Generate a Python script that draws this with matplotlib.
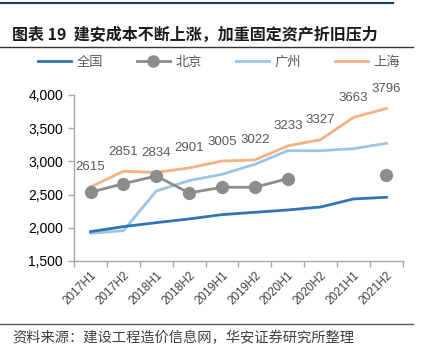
import numpy as np
import matplotlib
matplotlib.use("Agg")
import matplotlib.pyplot as plt
from matplotlib.lines import Line2D
from matplotlib.ticker import FuncFormatter, FixedLocator

plt.rcParams['font.family'] = ['Liberation Sans', 'Noto Sans CJK SC']

periods = ["2017H1", "2017H2", "2018H1", "2018H2", "2019H1",
           "2019H2", "2020H1", "2020H2", "2021H1", "2021H2"]
national = [1942, 2017, 2077, 2133, 2198, 2233, 2268, 2313, 2434, 2459]
beijing = [2535, 2664, 2780, 2524, 2610, 2610, 2740, np.nan, np.nan, 2790]
guangzhou = [1917, 1956, 2554, 2710, 2805, 2956, 3161, 3160, 3191, 3272]
shanghai = [2615, 2851, 2834, 2901, 3005, 3022, 3233, 3327, 3663, 3796]

c_nat = "#2E75B6"
c_bj = "#8C8C8C"
c_gz = "#9DC3E6"
c_sh = "#F4B183"
txt_gray = "#595959"
cjk = ['Noto Sans CJK SC', 'DejaVu Sans']

fig = plt.figure(figsize=(4.21, 3.57), dpi=100)
ax = fig.add_axes([0.176, 0.269, 0.781, 0.465])

x = np.arange(len(periods))
ax.plot(x, shanghai, color=c_sh, lw=2.0, zorder=2)
ax.plot(x, guangzhou, color=c_gz, lw=2.0, zorder=2)
ax.plot(x, beijing, color=c_bj, lw=2.0, marker='o', markersize=8.5, zorder=3)
ax.plot(x, national, color=c_nat, lw=2.0, zorder=4)

for xi, v in zip(x, shanghai):
    ax.annotate(str(v), (xi, v), xytext=(0, 14), textcoords='offset points',
                ha='center', va='center', fontsize=9.5, color=txt_gray)

ax.set_xlim(-0.5, len(periods) - 0.5)
ax.set_ylim(1500, 4000)
ax.set_yticks(np.arange(1500, 4001, 500))
ax.yaxis.set_major_formatter(FuncFormatter(lambda v, p: f"{int(v):,}"))
ax.tick_params(axis='y', labelsize=10, length=4, color='#A6A6A6', width=1, pad=4)

ax.set_xticks(x)
ax.set_xticklabels(periods, rotation=45, ha='right', rotation_mode='anchor',
                   fontsize=8.5, color='#404040')
ax.tick_params(axis='x', which='major', length=0, pad=6)
ax.xaxis.set_minor_locator(FixedLocator(np.arange(-0.5, len(periods), 1.0)))
ax.tick_params(axis='x', which='minor', length=4, color='#A6A6A6', width=1)

for s in ['top', 'right']:
    ax.spines[s].set_visible(False)
for s in ['left', 'bottom']:
    ax.spines[s].set_color('#A6A6A6')
    ax.spines[s].set_linewidth(1)

handles = [
    Line2D([], [], color=c_nat, lw=2.0),
    Line2D([], [], color=c_bj, lw=2.0, marker='o', markersize=8),
    Line2D([], [], color=c_gz, lw=2.0),
    Line2D([], [], color=c_sh, lw=2.0),
]
leg = fig.legend(handles, ["全国", "北京", "广州", "上海"], loc='center',
                 bbox_to_anchor=(0.52, 0.826), ncol=4, frameon=False,
                 handlelength=2.5, handletextpad=0.4, columnspacing=2.6,
                 prop={'family': cjk, 'size': 9.5})
for t in leg.get_texts():
    t.set_color(txt_gray)

# header / footer decorations
fig.add_artist(Line2D([0, 393 / 421], [1 - 3 / 357] * 2, color='#1F3864', lw=1.5))
fig.text(12 / 421, 1 - 35 / 357, "图表 19  建安成本不断上涨，加重固定资产折旧压力",
         family=cjk, fontsize=11.5, fontweight='bold', va='center', ha='left',
         color='#1a1a1a')
fig.add_artist(Line2D([0, 413 / 421], [1 - 47 / 357] * 2, color='#333333', lw=1.0))
fig.add_artist(Line2D([0, 413 / 421], [1 - 324 / 357] * 2, color='#595959', lw=1.0))
fig.text(12 / 421, 1 - 338 / 357, "资料来源：建设工程造价信息网，华安证券研究所整理",
         family=cjk, fontsize=10.3, va='center', ha='left', color='#404040')

fig.savefig("out.png", dpi=100)
